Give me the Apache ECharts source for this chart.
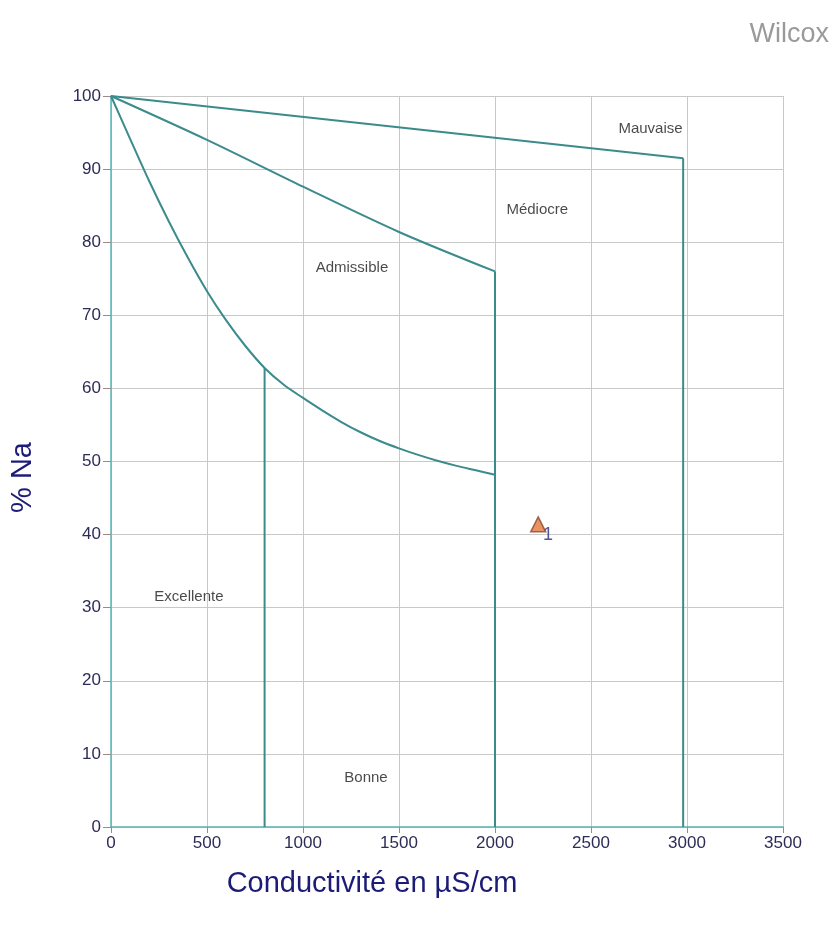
<!DOCTYPE html>
<html><head><meta charset="utf-8">
<script src="https://cdn.jsdelivr.net/npm/echarts@6/dist/echarts.min.js"></script>
<style>html,body{margin:0;padding:0;background:#fff}#c{width:840px;height:931px}</style>
</head><body><div id="c"></div>
<script>
// Boundary curves (conductivity µS/cm, % Na)
const topLine = [[0,100],[2980,91.5]];
const midX = [0,500,1000,1500,2000];
const midY = [100,94,87.6,81.4,76];
const lowX = [0,100,200,300,400,500,600,700,800,900,1000,1100,1200,1300,1400,1500,1600,1700,1800,1900,2000];
const lowY = [100,94.1,88.3,82.9,77.9,73.3,69.3,65.8,62.8,60.5,58.7,57.0,55.4,54.0,52.8,51.8,50.9,50.1,49.4,48.8,48.2];
const vert800 = [[800,0],[800,62.8]];
const vert2000 = [[2000,0],[2000,76]];
const vert2980 = [[2980,0],[2980,91.5]];
// Zone labels
const zoneNames = ['Mauvaise','Médiocre','Admissible','Excellente','Bonne'];
const zoneX = [2810,2220,1255,406,1328];
const zoneY = [95.5,84.4,76.5,31.5,6.7];
// Sample
const sampleNames = ['1'];
const sampleX = [2225];
const sampleY = [41.4];

const FF = "'Liberation Sans', Arial, sans-serif";
const lineColor = '#3b8b8c';
const lineSeries = (d) => ({type:'line', data:d, showSymbol:false, symbol:'none', lineStyle:{color:lineColor,width:2}, silent:true, z:3});

const chart = echarts.init(document.getElementById('c'));
chart.setOption({
  animation:false,
  backgroundColor:'#fff',
  textStyle:{fontFamily:FF},
  title:{text:'Wilcox', right:6, top:16, textStyle:{color:'#9a9a9a', fontSize:27, fontWeight:'normal', fontFamily:FF}},
  grid:{left:111, top:96, width:672, height:731},
  xAxis:{type:'value', min:0, max:3500, interval:500,
    name:'Conductivité en µS/cm', nameLocation:'middle', nameGap:42,
    nameTextStyle:{fontSize:29, color:'#1c1c78', fontFamily:FF, padding:[0,150,0,0]},
    axisLine:{show:true, onZero:false, lineStyle:{color:'#5ab4b4', width:1.5}},
    axisTick:{show:true, length:6, lineStyle:{color:'#a08888'}},
    axisLabel:{fontSize:17, color:'#2c2c58', fontFamily:FF, margin:8, formatter:v=>String(v)},
    splitLine:{show:true, lineStyle:{color:'#c8c8c8', width:1}}},
  yAxis:{type:'value', min:0, max:100, interval:10,
    name:'% Na', nameLocation:'middle', nameGap:74, nameRotate:90,
    nameTextStyle:{fontSize:29, color:'#1c1c78', fontFamily:FF, padding:[0,32,0,0]},
    axisLine:{show:true, onZero:false, lineStyle:{color:'#5ab4b4', width:1.5}},
    axisTick:{show:true, length:8, lineStyle:{color:'#a08888'}},
    axisLabel:{fontSize:17, color:'#2c2c58', fontFamily:FF, margin:10},
    splitLine:{show:true, lineStyle:{color:'#c8c8c8', width:1}}},
  series:[
    lineSeries(topLine),
    Object.assign(lineSeries(midX.map((x,i)=>[x,midY[i]])),{smooth:0.3}),
    Object.assign(lineSeries(lowX.map((x,i)=>[x,lowY[i]])),{smooth:0.3}),
    lineSeries(vert800),
    lineSeries(vert2000),
    lineSeries(vert2980),
    {type:'scatter', symbolSize:0, silent:true, z:4,
     data:zoneNames.map((n,i)=>({name:n, value:[zoneX[i],zoneY[i]]})),
     label:{show:true, position:'inside', formatter:p=>p.name, fontSize:15, fontFamily:FF, color:'#1a1a1a'}},
    {type:'scatter', symbol:'triangle', symbolSize:15, silent:true, z:5,
     itemStyle:{color:'#e2773e', borderColor:'#8b4a2b', borderWidth:1.5},
     data:sampleNames.map((n,i)=>({name:n, value:[sampleX[i],sampleY[i]]})),
     label:{show:true, position:[13,10], formatter:p=>p.name, fontSize:18, fontFamily:FF, color:'#2a2a80'}}
  ]
});
</script></body></html>
